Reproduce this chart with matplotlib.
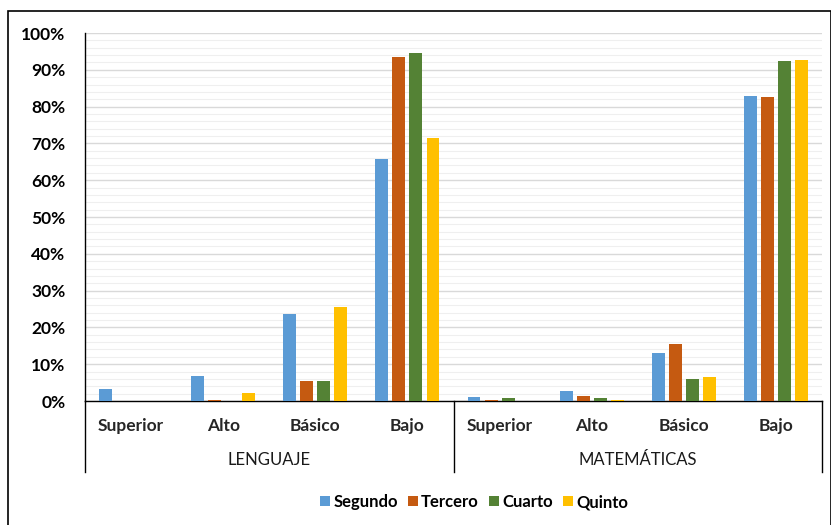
import matplotlib
matplotlib.use("Agg")
import matplotlib.pyplot as plt
from matplotlib.patches import Patch, Rectangle
from matplotlib.ticker import MultipleLocator, PercentFormatter
import numpy as np

plt.rcParams['font.family'] = ['Lato', 'DejaVu Sans']

levels = ["Superior", "Alto", "Básico", "Bajo"]
groups = ["LENGUAJE", "MATEMÁTICAS"]
series = ["Segundo", "Tercero", "Cuarto", "Quinto"]
colors = ["#5B9BD5", "#C55A11", "#548235", "#FFC000"]

segundo = [3.3, 6.8, 23.6, 65.7, 1.0, 2.7, 13.1, 82.8]
tercero = [0.0, 0.4, 5.3, 93.6, 0.4, 1.4, 15.4, 82.5]
cuarto = [0.0, 0.0, 5.3, 94.6, 0.7, 0.7, 5.9, 92.3]
quinto = [0.0, 2.3, 25.6, 71.4, 0.0, 0.3, 6.6, 92.7]
values = [segundo, tercero, cuarto, quinto]

W, H = 831, 525
fig = plt.figure(figsize=(W / 100, H / 100), dpi=100)
L, R, T, B = 85, 822, 33, 401
ax = fig.add_axes([L / W, 1 - B / H, (R - L) / W, (B - T) / H])

cats = levels * len(groups)
x = np.arange(len(cats))
slot, bw = 0.185, 0.141
for i, (name, vals, c) in enumerate(zip(series, values, colors)):
    ax.bar(x + (i - 1.5) * slot, vals, width=bw, color=c, label=name, zorder=3)

ax.set_xlim(-0.5, len(cats) - 0.5)
ax.set_ylim(0, 100)
ax.yaxis.set_major_locator(MultipleLocator(10))
ax.yaxis.set_minor_locator(MultipleLocator(2))
ax.yaxis.set_major_formatter(PercentFormatter(decimals=0))
ax.grid(axis='y', which='major', color='#D9D9D9', linewidth=1.0, zorder=0)
ax.grid(axis='y', which='minor', color='#EFEFEF', linewidth=0.8, zorder=0)
ax.tick_params(axis='y', which='both', length=0, pad=14, labelsize=12.5)
for lab in ax.get_yticklabels():
    lab.set_fontweight('bold')
ax.set_xticks([])
for s in ['top', 'right']:
    ax.spines[s].set_visible(False)
ax.spines['left'].set_color('black')
ax.spines['bottom'].set_color('black')
ax.spines['left'].set_linewidth(1.0)
ax.spines['bottom'].set_linewidth(1.0)

xt = ax.get_xaxis_transform()
ybot = -(472 - B) / (B - T)
for xv in [-0.5, 3.5, 7.5]:
    ax.plot([xv, xv], [0, ybot], color='black', lw=1.0, transform=xt, clip_on=False)

ycat = -(426 - B) / (B - T)
ygrp = -(460 - B) / (B - T)
for xi, c in zip(x, cats):
    ax.text(xi, ycat, c, transform=xt, ha='center', va='center', fontsize=12.5,
            fontweight='bold', color='#262626')
for gi, g in enumerate(groups):
    ax.text(gi * 4 + 1.5, ygrp, g, transform=xt, ha='center', va='center',
            fontsize=12, color='#1A1A1A')

handles = [Patch(facecolor=c, edgecolor='none') for c in colors]
leg = fig.legend(handles, series, loc='center', bbox_to_anchor=(474 / W, 1 - 502 / H),
                 ncol=4, frameon=False, handlelength=0.6, handleheight=0.6,
                 handletextpad=0.2, columnspacing=0.6,
                 prop={'size': 12, 'weight': 'bold'})

fig.patches.append(Rectangle((7.5 / W, -0.1), (830.5 - 7.5) / W, 1.1 - 10.5 / H,
                             transform=fig.transFigure, fill=False,
                             edgecolor='black', linewidth=1.2))

fig.savefig("out.png", dpi=100)
